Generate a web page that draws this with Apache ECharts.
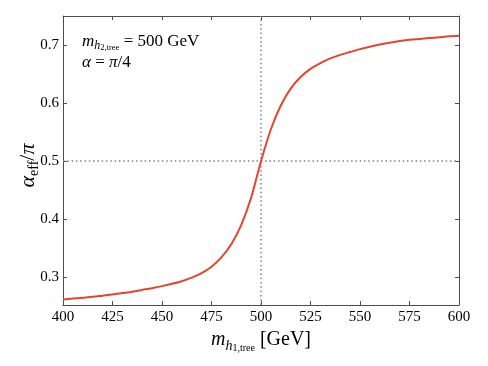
<!DOCTYPE html>
<html>
<head>
<meta charset="utf-8">
<script src="https://cdn.jsdelivr.net/npm/echarts@6/dist/echarts.min.js"></script>
<style>
html,body{margin:0;padding:0;background:#fff;}
#chart{width:488px;height:366px;}
</style>
</head>
<body>
<div id="chart"></div>
<script>
// ---- data ----
const mh1 = [400,405,410,415,420,425,430,435,440,445,450,455,460,465,470,475,480,485,490,495,
             500,505,510,515,520,525,530,535,540,545,550,555,560,565,570,575,580,585,590,595,600];
const alphaEff = [0.262,0.2635,0.265,0.2665,0.2685,0.2705,0.273,0.2755,0.2785,0.2815,0.285,0.289,0.2935,0.2995,0.3075,0.3185,0.3345,0.357,0.390,0.437,
                  0.500,0.555,0.596,0.625,0.645,0.659,0.669,0.677,0.683,0.688,0.693,0.697,0.701,0.704,0.707,0.709,0.7105,0.712,0.7135,0.715,0.716];
const refX = 500;
const refY = 0.5;
const xTicks = [400,425,450,475,500,525,550,575,600];
const yTicks = [0.3,0.4,0.5,0.6,0.7];

const FONT = 'Liberation Serif';
const AX = '#4d4d4d';
const pts = mh1.map((x,i)=>[x, alphaEff[i]]);

const chart = echarts.init(document.getElementById('chart'), null, {renderer:'canvas'});

const axisCommon = {
  axisLine:{show:true, lineStyle:{color:AX, width:1}},
  axisTick:{show:true, inside:true, length:4, lineStyle:{color:AX, width:1}},
  splitLine:{show:false}
};

chart.setOption({
  animation:false,
  backgroundColor:'#fff',
  grid:{left:63, right:29, top:16, bottom:61, outerBoundsMode:'none'},
  xAxis:[
    Object.assign({
      type:'value', position:'bottom', min:400, max:600, interval:25,
      axisLabel:{color:'#000', fontFamily:FONT, fontSize:15, margin:5,
        formatter:v=> xTicks.indexOf(v)>=0 ? String(v) : ''},
      name:'{m|m}{h|h}{s|1,tree}{r| [GeV]}',
      nameLocation:'middle', nameGap:18,
      nameTextStyle:{
        color:'#000', fontFamily:FONT,
        rich:{
          m:{fontSize:20, fontStyle:'italic', fontFamily:FONT, color:'#000', verticalAlign:'top'},
          h:{fontSize:14, fontStyle:'italic', fontFamily:FONT, color:'#000', verticalAlign:'top', padding:[9.5,0,0,0]},
          s:{fontSize:10, fontFamily:FONT, color:'#000', verticalAlign:'top', padding:[13.5,0,0,0]},
          r:{fontSize:20, fontFamily:FONT, color:'#000', verticalAlign:'top'}
        }
      }
    }, axisCommon),
    Object.assign({
      type:'value', position:'top', min:400, max:600, interval:25,
      axisLabel:{show:false}
    }, axisCommon)
  ],
  yAxis:[
    Object.assign({
      type:'value', position:'left', min:0.2525, max:0.75, splitNumber:5,
      axisLabel:{color:'#000', fontFamily:FONT, fontSize:15, margin:4,
        showMinLabel:false, showMaxLabel:false,
        formatter:v=>{ const r=Math.round(v*10)/10; return (Math.abs(v-r)<1e-6 && yTicks.indexOf(r)>=0) ? r.toFixed(1) : ''; }},
      name:'{a|α}{e|eff}{r|/}{p|π}',
      nameLocation:'middle', nameGap:22, nameMoveOverlap:false,
      nameTextStyle:{
        color:'#000', fontFamily:FONT, padding:[0,10,0,0],
        rich:{
          a:{fontSize:22, fontStyle:'italic', fontFamily:FONT, color:'#000', verticalAlign:'top'},
          e:{fontSize:14, fontFamily:FONT, color:'#000', verticalAlign:'top', padding:[10,0,0,0]},
          r:{fontSize:22, fontFamily:FONT, color:'#000', verticalAlign:'top'},
          p:{fontSize:22, fontStyle:'italic', fontFamily:FONT, color:'#000', verticalAlign:'top'}
        }
      }
    }, axisCommon),
    Object.assign({
      type:'value', position:'right', min:0.2525, max:0.75, splitNumber:5,
      axisLabel:{show:false}
    }, axisCommon)
  ],
  series:[{
    type:'line', xAxisIndex:0, yAxisIndex:0,
    data:pts, smooth:0.3, showSymbol:false, symbol:'none',
    lineStyle:{color:'#e5452d', width:2},
    z:3,
    markLine:{
      silent:true, symbol:['none','none'], label:{show:false},
      lineStyle:{color:'#808080', type:[1.5,2.8], width:1.5},
      data:[{xAxis:refX},{yAxis:refY}],
      z:2
    }
  }],
  graphic:[
    {type:'text', left:82, top:33, z:10, style:{
      text:'{m|m}{h|h}{s|2,tree}{r| = 500 GeV}',
      rich:{
        m:{fontSize:17, fontStyle:'italic', fontFamily:FONT, fill:'#000', verticalAlign:'top'},
        h:{fontSize:12, fontStyle:'italic', fontFamily:FONT, fill:'#000', verticalAlign:'top', padding:[6.5,0,0,0]},
        s:{fontSize:8.5, fontFamily:FONT, fill:'#000', verticalAlign:'top', padding:[10.5,0,0,0]},
        r:{fontSize:17, fontFamily:FONT, fill:'#000', verticalAlign:'top'}
      }
    }},
    {type:'text', left:82, top:54, z:10, style:{
      text:'{a|α}{r| = }{p|π}{r|/4}',
      rich:{
        a:{fontSize:17, fontStyle:'italic', fontFamily:FONT, fill:'#000', verticalAlign:'top'},
        p:{fontSize:17, fontStyle:'italic', fontFamily:FONT, fill:'#000', verticalAlign:'top'},
        r:{fontSize:17, fontFamily:FONT, fill:'#000', verticalAlign:'top'}
      }
    }}
  ]
});
</script>
</body>
</html>
